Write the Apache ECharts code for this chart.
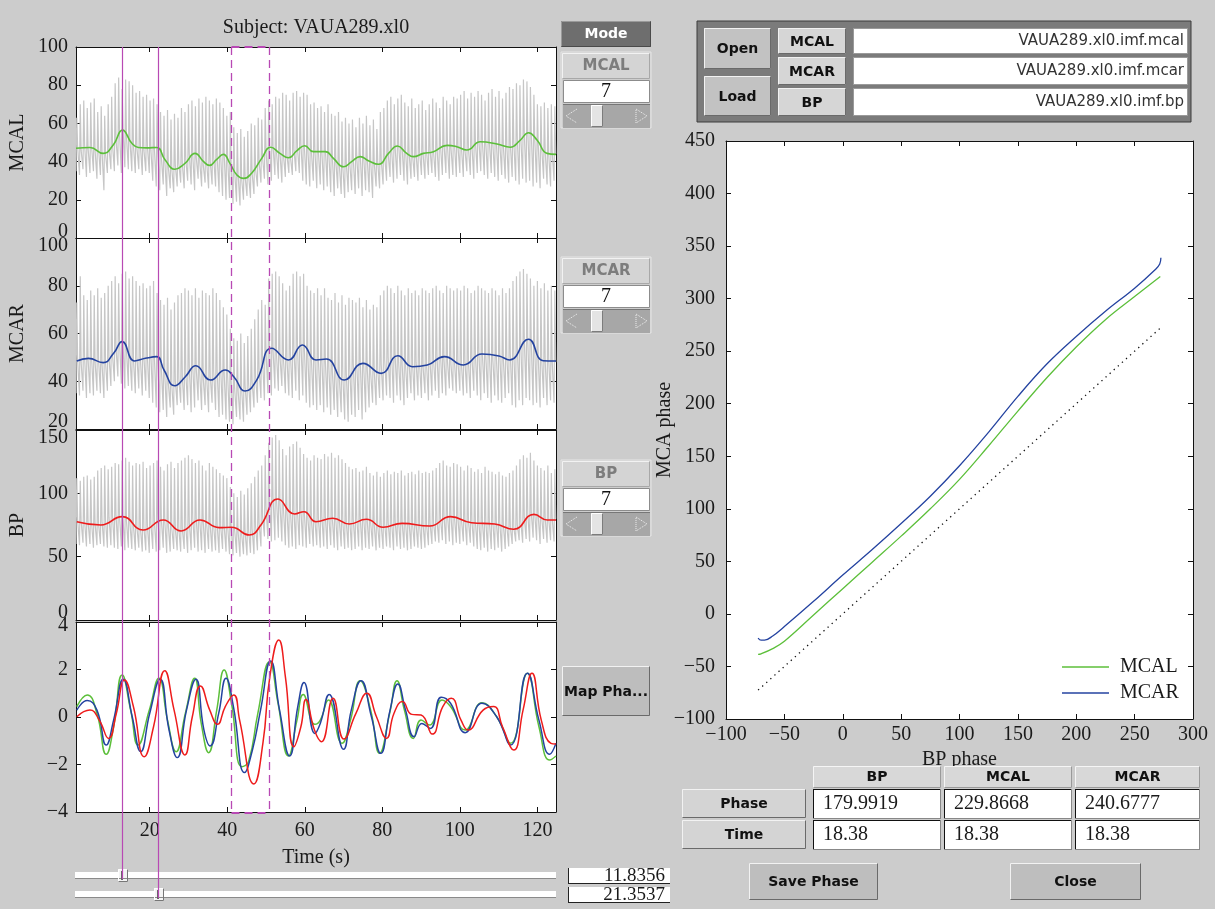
<!DOCTYPE html>
<html><head><meta charset="utf-8">
<script src="https://cdn.jsdelivr.net/npm/echarts@6/dist/echarts.min.js"></script>
<style>html,body{margin:0;padding:0;background:#cccccc;}#c{width:1215px;height:909px;}</style>
</head><body><div id="c"></div>
<script>
// ---------------- DATA ----------------
const timeMin = 1, timeMax = 124.8;
const timeTicks = [20, 40, 60, 80, 100, 120];
const beatStart = 1.0, beatPeriod = 0.9;   // one heartbeat per 0.9 s

const mcalPeaks = [63,70,72,68,71,73,66,69,64,70, 74,81,84,78,83,82,80,76,77,74, 75,72,73,70,66,64,67,62,65,63,
 68,66,70,72,69,73,71,74,72,70, 73,71,68,64,66,58,55,57,53,56, 60,59,63,62,68,72,70,74,73,76,
 75,72,76,77,74,76,75,70,71,68, 69,66,70,65,64,66,61,63,60,62, 58,63,60,64,59,62,57,66,68,72,
 74,70,73,75,71,69,73,68,70,72, 67,70,73,71,68,74,72,70,74,73, 75,77,73,76,74,77,75,72,76,78,
 74,77,73,76,79,78,81,80,83,82, 79,75,70,69,71,68,70,69];
const mcalNotches = [48,46,49,47,48,46,47,45,44,47, 49,52,55,57,53,51,48,47,48,46, 48,46,47,45,42,40,37,36,38,39,
 39,41,44,43,42,40,38,39,40,42, 42,43,44,41,38,35,33,31,32,33, 34,36,40,42,46,47,48,45,44,43,
 43,42,46,47,49,47,46,45,46,45, 45,46,44,42,40,38,37,39,39,41, 42,43,42,41,40,39,40,41,43,44,
 46,47,49,47,45,44,43,44,45,44, 45,46,45,47,48,49,48,47,49,48, 47,46,47,48,50,51,50,49,50,49,
 50,49,48,48,49,50,52,53,55,56, 55,52,49,47,45,44,45,44];
const mcalTroughs = [35,33,36,32,34,35,31,33,25,34, 36,35,38,34,37,36,35,34,36,33, 35,34,30,27,25,28,22,26,24,27,
 29,26,30,28,25,31,27,29,26,28, 27,24,22,20,21,18,19,17,20,22, 21,23,27,29,31,28,30,33,31,29,
 32,34,33,35,34,30,28,27,30,26, 28,25,27,24,22,26,23,21,24,25, 23,26,22,25,24,21,27,26,28,30,
 32,29,31,33,30,28,31,32,30,33, 31,33,34,32,30,33,34,31,33,32, 34,32,35,33,31,34,35,33,31,34,
 32,30,33,31,29,32,30,28,31,29, 30,27,29,26,31,28,27,30];
const mcarPeaks = [73,84,76,74,78,76,79,75,77,80, 82,84,81,85,86,83,84,82,80,81, 79,80,82,77,74,72,75,70,73,76,
 77,79,78,76,79,75,78,77,76,79, 77,74,71,68,62,58,57,60,56,59, 62,66,70,74,72,83,85,86,84,81,
 78,80,85,86,84,85,80,78,77,79, 76,79,75,74,77,73,76,72,75,74, 73,75,71,74,70,72,71,76,78,80,
 79,77,80,78,76,79,77,78,76,79, 78,77,79,80,78,77,80,79,78,79, 78,80,79,77,78,80,79,78,77,79,
 78,76,79,77,79,82,84,86,87,85, 83,80,82,79,81,78,80,78];
const mcarNotches = [49,48,50,49,50,48,49,47,48,50, 51,54,57,56,53,50,49,50,49,50, 50,51,50,48,45,42,39,38,40,41,
 42,43,46,46,45,43,41,41,42,44, 44,45,43,42,40,37,36,37,38,39, 40,42,45,49,52,54,53,51,50,49,
 49,51,53,55,56,53,50,49,50,49, 49,48,46,44,42,41,42,43,45,47, 47,48,46,45,43,44,45,47,49,50,
 51,50,48,47,46,47,47,48,47,46, 47,48,49,50,51,49,48,47,48,48, 47,48,48,50,51,52,51,50,51,49,
 50,51,49,50,51,52,54,56,58,57, 56,53,50,49,48,49,48,48];
const mcarTroughs = [35,34,36,33,35,34,36,35,33,36, 38,40,42,39,37,38,36,35,37,34, 36,33,31,29,27,28,25,29,26,30,
 31,28,30,27,29,32,28,30,27,31, 28,25,26,24,23,22,25,24,23,26, 27,29,31,33,32,35,34,37,36,38,
 35,34,33,36,32,34,31,29,30,28, 30,27,29,26,28,25,27,24,23,26, 25,28,24,27,29,31,30,33,32,34,
 33,31,34,32,30,33,35,32,34,33, 35,32,34,36,33,35,34,37,36,35, 36,34,35,33,36,34,32,35,33,31,
 34,32,31,33,35,30,29,32,30,33, 32,30,31,29,33,30,32,31];
const bpPeaks = [112,110,113,114,111,113,118,120,122,119, 121,124,123,126,128,125,122,124,123,125, 120,122,124,126,121,118,123,125,120,124,
 126,128,130,127,124,126,122,118,124,121, 119,116,114,112,105,100,97,102,99,104, 108,113,118,122,130,140,144,146,142,135,
 130,137,139,141,136,131,128,126,130,128, 127,131,129,132,128,130,127,124,121,119, 120,117,118,121,116,114,117,113,116,118,
 115,117,116,118,114,116,117,115,118,116, 117,116,118,120,124,126,122,121,124,123, 121,118,122,120,117,119,116,121,118,117,
 115,117,114,113,116,118,122,127,130,128, 132,126,122,120,118,122,116,119];
const bpNotches = [79,78,78,77,77,76,76,78,79,81, 82,83,82,80,78,76,74,73,72,73, 74,76,78,80,79,77,74,72,72,72,
 72,74,77,80,80,79,77,75,74,74, 74,74,74,74,73,71,69,68,69,71, 72,74,77,82,88,95,97,95,91,87,
 85,85,86,86,86,83,80,79,79,80, 81,81,81,80,79,78,77,77,78,79, 80,80,80,78,76,75,74,75,76,77,
 77,78,77,77,76,76,75,75,75,75, 75,76,77,78,80,82,83,82,81,80, 79,79,78,78,77,77,77,77,77,77,
 77,76,75,74,73,73,75,78,81,84, 85,84,82,81,80,80,80,80];
const bpTroughs = [60,59,61,58,60,57,59,60,58,57, 59,57,56,58,55,57,56,55,57,54, 55,53,56,54,55,57,53,54,56,55,
 54,56,53,55,57,54,55,53,56,54, 55,53,56,54,52,51,53,50,52,51, 53,52,55,58,66,64,62,63,65,62,
 59,57,58,56,59,58,57,60,58,59, 57,58,56,59,57,55,58,56,57,55, 56,58,55,57,56,58,55,57,56,58,
 57,55,58,56,57,55,56,58,57,56, 57,59,60,62,61,63,60,62,59,61, 60,62,59,61,58,56,55,57,54,56,
 55,57,54,56,58,60,62,63,61,64, 62,65,63,60,64,61,63,62];

const mcalTrend = [[1,47.0],[4.6,47.4],[8,44.3],[10.6,48.7],[13,56.5],[15.4,49.6],[17.1,47.4],[19.2,47.2],[21.8,47.4],[24,40.8],[26.5,36.0],[29.1,39.1],[31.7,44.3],[33.9,40.0],[35.4,38.0],[37.3,41.2],[39,43.8],[40.7,39.1],[42.5,33],[44.2,31.2],[46.3,33.9],[48.9,41.7],[51.2,47.5],[53.6,44.3],[55.8,42.0],[58,45.8],[60,48.3],[62.2,45.2],[65.3,45.2],[67.4,41.7],[70,37.3],[72.1,40],[74.3,42.6],[76.4,40.5],[79,38.6],[81.6,44.3],[83.9,48.2],[86.3,44.3],[88,42.6],[90.6,44.3],[93.2,45.2],[96.7,48.5],[99.2,47.8],[101.8,46.1],[105.3,50.4],[109.6,49.2],[113,47.5],[115.6,51.3],[117.7,55.1],[119.9,51.3],[122.5,44.3],[124.8,43.8]];
const mcarTrend = [[1.2,48.5],[4.2,49.6],[8,47.8],[10.7,51.7],[12.9,56.6],[16.1,48.5],[18.9,49.6],[21.8,50.3],[23.7,44.7],[26.5,38.1],[29.2,41.9],[31.9,46.5],[35.7,40.5],[39.5,44.7],[41.7,41.9],[44.6,35.9],[47.6,40.5],[51.5,53.8],[55.8,48.9],[59.4,55.2],[62.9,48.9],[65.6,49.3],[70.2,40.5],[75,47.5],[79.7,43.3],[84,50.7],[87.8,46.1],[91.6,46.8],[96,50.3],[100.9,46.8],[105.7,51.4],[110.1,50.6],[112.8,48.9],[117.7,57.6],[121.5,48.6],[124.8,48.5]];
const bpTrend = [[1.2,77.6],[7.4,75],[12.9,81.6],[18.3,71],[23.5,79],[28.1,70.3],[33,79],[37.9,72.9],[41.1,73.2],[45.7,67.1],[48.7,75],[53.1,95.5],[57.4,83.7],[59.8,85.5],[62.9,77.6],[67.2,80.3],[71.5,75.8],[75.9,79.5],[80.2,73.2],[85.1,76.3],[92.2,74.2],[97.6,81.6],[103,76.8],[109,75.8],[113.9,71.6],[119.1,83.4],[122.6,79],[124.8,79]];

const mcalImf = [[1.2,0.44],[3.9,0.93],[6.4,0.15],[8.8,-1.57],[10.7,-0.41],[12.9,1.77],[15.1,0.29],[17,-1.18],[19.9,0.29],[22.4,1.63],[24.6,-0.13],[26.8,-1.46],[29.2,0.15],[31.6,1.63],[33.3,-0.27],[35.2,-1.5],[37.3,0.29],[39.2,1.98],[41.1,0.58],[43.8,-2.09],[45.5,-1.88],[47.9,0.15],[50.9,2.33],[53.1,0.58],[55.8,-1.64],[58,-0.13],[59.6,0.95],[62.6,-0.31],[64,-0.13],[66.1,0.72],[69.6,-1.11],[71.8,-0.13],[74.3,1.53],[77,0.29],[79.3,-1.53],[81.9,0.15],[83.8,1.53],[85.7,0.29],[88,-0.9],[90,-0.13],[92.2,-0.34],[95.4,0.72],[97.6,0.44],[101.4,-0.55],[105.7,0.6],[109.5,0.01],[113.1,-1.11],[117.4,1.84],[120.4,-0.41],[123.2,-1.81],[124.8,-1.64]];
const mcarImf = [[1.2,0.29],[3.9,0.69],[6.4,0.29],[8.8,-1.18],[10.7,-0.13],[13.2,1.59],[15.5,0.01],[17.7,-1.46],[20,0.15],[22.7,1.59],[25,-0.55],[27.1,-1.71],[29.5,0.29],[31.9,1.59],[34,-0.55],[35.6,-1.22],[37.8,0.15],[39.7,1.63],[41.6,0.44],[44.5,-2.34],[46.5,-1.39],[48.6,0.29],[51.2,2.36],[53.5,0.29],[56.1,-1.64],[58.2,0.44],[59.8,1.45],[62.6,-0.69],[64,-0.27],[66.3,0.95],[70,-1.36],[72,0.29],[74.5,1.53],[77.2,0.01],[79.6,-1.53],[82,0.29],[84,1.39],[86,0.29],[88.2,-0.83],[90.2,-0.27],[92.4,-0.48],[95.2,0.83],[97.6,0.58],[101.4,-0.66],[105.7,0.58],[109.5,0.01],[113.1,-1.18],[117.4,1.84],[120.4,-0.13],[123.2,-1.57],[124.8,-1.11]];
const bpImf = [[1.2,0.01],[4.6,0.29],[7,-0.13],[9.4,-0.9],[11.4,0.15],[13.5,1.56],[15.8,0.44],[18.6,-1.67],[21,-0.41],[23.9,1.95],[26.3,0.29],[29.1,-1.6],[31,0.01],[33.1,1.31],[35.5,0.29],[37.5,-0.31],[39.5,0.44],[41.7,0.93],[43.2,-0.13],[46.9,-2.82],[49.2,-1.11],[51,1.7],[53.3,3.24],[55,1.7],[57.2,-1.25],[59,-0.41],[60.3,0.74],[62.5,-0.55],[64.3,-1.04],[67.3,0.79],[70.1,-0.93],[73.2,0.15],[76,1.0],[78.5,0.01],[81.1,-0.9],[83,0.15],[85.2,0.65],[87.6,0.11],[90,0.08],[92.9,-0.72],[95.6,0.44],[97.8,0.79],[100.3,-0.13],[102.1,-0.55],[106,0.29],[108.7,0.44],[111,-0.41],[113.9,-1.39],[116.3,0.29],[118.6,1.84],[121,-0.13],[123.5,-1.11],[124.8,-1.14]];

const mcalPhase = [[-72.5,-38.5],[-70,-38],[-60,-33],[-50,-26],[-25,-1],[0,24],[25,49],[50,74],[75,100],[100,128],[125,160],[150,193],[175,225],[200,254],[225,280],[250,302],[272,321]];
const mcarPhase = [[-72.5,-23],[-70,-25],[-67,-25],[-60,-21],[-50,-12],[-25,12],[0,37],[25,61],[50,86],[75,112],[100,141],[125,173],[150,207],[175,238],[200,264],[225,288],[250,310],[268,328],[271.5,333],[272.5,339]];
const identityLine = [[-72.5,-72.5],[272,272]];

const cursorTimes = [12.8, 22.1];
const cursorLabels = ['11.8356', '21.3537'];
const windowTimes = [40.9, 50.7];
const fileNames = ['VAUA289.xl0.imf.mcal', 'VAUA289.xl0.imf.mcar', 'VAUA289.xl0.imf.bp'];
const tableCols = ['BP', 'MCAL', 'MCAR'];
const phaseValues = ['179.9919', '229.8668', '240.6777'];
const timeValues = ['18.38', '18.38', '18.38'];

// ---------------- BUILD ----------------
const serif = '"Liberation Serif", "DejaVu Serif", serif';
const sansB = 'bold 14px "DejaVu Sans", sans-serif';
const ink = '#1a1a1a';
const GREEN = '#5cbf3a', BLUE = '#2443a0', RED = '#ee1c1c', GRAY = '#c6c6c6', MAG = '#b849b4';

function pulse(peaks, notches, troughs) {
  const out = [];
  for (let i = 0; i < peaks.length; i++) {
    const t = beatStart + beatPeriod * i;
    out.push([t, troughs[i]]);
    out.push([t + 0.2, peaks[i]]);
    out.push([t + 0.42, notches[i]]);
  }
  return out;
}
const minus = v => String(v).replace('-', '\u2212');

const grids = [
  {left:76, top:47, width:480, height:191},
  {left:76, top:238, width:480, height:191},
  {left:76, top:430, width:480, height:190},
  {left:76, top:622, width:480, height:190},
  {left:726, top:141, width:467, height:578}
].map(g => Object.assign({show:true, backgroundColor:'#ffffff', borderWidth:0}, g));

const panels = [
  {min:0, max:100, interval:20, name:'MCAL', topPad:0, botPad:12},
  {min:20, max:100, interval:20, name:'MCAR', topPad:16, botPad:14},
  {min:0, max:150, interval:50, name:'BP', topPad:16, botPad:14},
  {min:-4, max:4, interval:2, name:'', topPad:8, botPad:0}
];

const axLine = {show:true, onZero:false, lineStyle:{color:'#111', width:1}};
const axTick = {show:true, inside:true, length:5, lineStyle:{color:'#111', width:1}};
const xAxes = [], yAxes = [];
panels.forEach((p, g) => {
  const last = g === 3;
  ['bottom','top'].forEach(pos => {
    xAxes.push({type:'value', gridIndex:g, position:pos, min:timeMin, max:timeMax,
      axisLine:axLine, axisTick:Object.assign({customValues:timeTicks}, axTick),
      axisLabel:{show: last && pos==='bottom', customValues:timeTicks, margin:9,
        fontFamily:serif, fontSize:20, color:ink},
      splitLine:{show:false},
      name: (last && pos==='bottom') ? 'Time (s)' : '', nameLocation:'middle', nameGap:36,
      nameTextStyle:{fontFamily:serif, fontSize:20, color:ink}});
  });
  ['left','right'].forEach(pos => {
    const rs = {fontFamily:serif, fontSize:20, color:ink};
    yAxes.push({type:'value', gridIndex:g, position:pos, min:p.min, max:p.max, interval:p.interval,
      axisLine:axLine, axisTick:axTick, splitLine:{show:false},
      axisLabel:{show: pos==='left', margin:8, fontFamily:serif, fontSize:20, color:ink,
        formatter: v => { const s = minus(v);
          if (v === p.max && p.topPad) return '{dn|' + s + '}';
          if (v === p.min && p.botPad) return '{up|' + s + '}';
          return s; },
        rich:{dn:Object.assign({padding:[p.topPad,0,0,0]}, rs), up:Object.assign({padding:[0,0,p.botPad,0]}, rs)}},
      name: pos==='left' ? p.name : '', nameLocation:'middle', nameGap:48, nameRotate:90,
      nameMoveOverlap:false,
      nameTextStyle:{fontFamily:serif, fontSize:20, color:ink}});
  });
});
// right phase plot
['bottom','top'].forEach(pos => {
  xAxes.push({type:'value', gridIndex:4, position:pos, min:-100, max:300, interval:50,
    axisLine:axLine, axisTick:axTick, splitLine:{show:false},
    axisLabel:{show:pos==='bottom', margin:6, fontFamily:serif, fontSize:20, color:ink, formatter:minus},
    name: pos==='bottom' ? 'BP phase' : '', nameLocation:'middle', nameGap:28,
    nameTextStyle:{fontFamily:serif, fontSize:20, color:ink}});
});
['left','right'].forEach(pos => {
  yAxes.push({type:'value', gridIndex:4, position:pos, min:-100, max:450, interval:50,
    axisLine:axLine, axisTick:axTick, splitLine:{show:false},
    axisLabel:{show:pos==='left', margin:11, fontFamily:serif, fontSize:20, color:ink, formatter:minus},
    name: pos==='left' ? 'MCA phase' : '', nameLocation:'middle', nameGap:51, nameRotate:90,
    nameMoveOverlap:false,
    nameTextStyle:{fontFamily:serif, fontSize:20, color:ink}});
});

function ln(name, data, xi, color, width, extra) {
  return Object.assign({type:'line', name:name, data:data, xAxisIndex:xi, yAxisIndex:xi,
    symbol:'none', silent:true, clip:true, lineStyle:{color:color, width:width}, itemStyle:{color:color}}, extra || {});
}
const series = [
  ln('g1', pulse(mcalPeaks, mcalNotches, mcalTroughs), 0, GRAY, 1.2),
  ln('t1', mcalTrend, 0, GREEN, 1.6, {smooth:0.5}),
  ln('g2', pulse(mcarPeaks, mcarNotches, mcarTroughs), 2, GRAY, 1.2),
  ln('t2', mcarTrend, 2, BLUE, 1.6, {smooth:0.5}),
  ln('g3', pulse(bpPeaks, bpNotches, bpTroughs), 4, GRAY, 1.2),
  ln('t3', bpTrend, 4, RED, 1.6, {smooth:0.5}),
  ln('i1', mcalImf, 6, GREEN, 1.5, {smooth:0.5}),
  ln('i2', mcarImf, 6, BLUE, 1.5, {smooth:0.5}),
  ln('i3', bpImf, 6, RED, 1.5, {smooth:0.5}),
  ln('ref', identityLine, 8, '#111', 1.2, {lineStyle:{color:'#111', width:1.3, type:[1.3,4.2]}}),
  ln('MCAL', mcalPhase, 8, GREEN, 1.3, {smooth:0.4}),
  ln('MCAR', mcarPhase, 8, BLUE, 1.3, {smooth:0.4})
];

const chart = echarts.init(document.getElementById('c'), null, {renderer:'canvas'});
chart.setOption({
  backgroundColor:'#cccccc', animation:false,
  grid: grids, xAxis: xAxes, yAxis: yAxes, series: series,
  legend: {data:[{name:'MCAL', icon:'rect'}, {name:'MCAR', icon:'rect'}], orient:'vertical',
    left:1057, top:652, itemWidth:47, itemHeight:1.5, itemGap:6, selectedMode:false,
    textStyle:{fontFamily:serif, fontSize:20, lineHeight:20, color:ink, padding:[0,0,0,6]}}
});

// ---------------- GUI WIDGETS ----------------
const G = [];
function rect(x,y,w,h,fill,stroke,z){G.push({type:'rect',shape:{x:x,y:y,width:w,height:h},style:{fill:fill,stroke:stroke||null,lineWidth:1},z:z||10});}
function seg(x1,y1,x2,y2,stroke,w,dash,z){G.push({type:'line',shape:{x1:x1,y1:y1,x2:x2,y2:y2},style:{stroke:stroke,lineWidth:w||1,lineDash:dash||null},z:z||11});}
function txt(x,y,s,font,fill,align,z){G.push({type:'text',x:x,y:y,style:{text:s,font:font,fill:fill,align:align||'center',verticalAlign:'middle'},z:z||12});}
function bevel(x,y,w,h,fill,light,dark){
  rect(x,y,w,h,fill);
  seg(x+0.5,y+0.5,x+w-0.5,y+0.5,light); seg(x+0.5,y+0.5,x+0.5,y+h-0.5,light);
  seg(x+0.5,y+h-0.5,x+w-0.5,y+h-0.5,dark); seg(x+w-0.5,y+0.5,x+w-0.5,y+h-0.5,dark);
}
function button(x,y,w,h,label,fill,font){bevel(x,y,w,h,fill||'#c4c4c4','#f2f2f2','#6a6a6a'); txt(x+w/2,y+h/2+1,label,font||sansB,'#111');}

// title
txt(316, 28, 'Subject: VAUA289.xl0', '20px ' + serif, ink);
// Mode
bevel(561,21,90,26,'#6e6e6e','#9a9a9a','#4a4a4a'); txt(606,34,'Mode',sansB,'#ffffff');
// IMF selectors
function ctrl(top, label){
  rect(561,top,90,76,'#cdcdcd','#e6e6e6');
  bevel(562,top+1,88,26,'#d4d4d4','#f2f2f2','#a8a8a8');
  txt(606,top+14,label,'bold 15px "DejaVu Sans", sans-serif','#7d7d7d');
  rect(563.5,top+28.5,86,22,'#ffffff','#8c8c8c');
  txt(606,top+40,'7','20px ' + serif,'#111');
  rect(563,top+52,87,24,'#a7a7a7');
  seg(563,top+52.5,650,top+52.5,'#777');
  bevel(591,top+53,12,22,'#e4e4e4','#ffffff','#7c7c7c');
  G.push({type:'polyline',shape:{points:[[577,top+57],[566,top+64],[577,top+71]]},style:{stroke:'#f0f0f0',lineWidth:1,lineDash:[1,1],fill:null},z:12});
  G.push({type:'polygon',shape:{points:[[636,top+57],[647,top+64],[636,top+71]]},style:{stroke:'#f0f0f0',lineWidth:1,lineDash:[1,1],fill:null},z:12});
}
ctrl(52,'MCAL'); ctrl(257,'MCAR'); ctrl(460,'BP');
button(562,666,88,50,'Map Pha...','#bdbdbd');

// bottom sliders + value boxes
[872, 891].forEach((y, i) => {
  rect(75,y,481,6,'#ffffff'); seg(75,y+6.5,556,y+6.5,'#8a8a8a');
  const by = i === 0 ? 868 : 887;
  rect(568,by,102,16,'#ffffff');
  seg(568.5,by,568.5,by+16,'#222'); seg(568,by+15.5,670,by+15.5,'#222');
  txt(665,by+8,cursorLabels[i],'19px ' + serif,ink,'right');
});

// top-right file frame
rect(697,21,494,101,'#7b7b7b','#3c3c3c');
button(704,28,67,41,'Open','#c2c2c2');
button(704,76,67,40,'Load','#c2c2c2');
[['MCAL',28,26],['MCAR',57,28],['BP',88,28]].forEach((b, i) => {
  button(778,b[1],68,b[2],b[0],'#d6d6d6');
  rect(853.5,b[1]+0.5,334,b[2]-1,'#ffffff','#9a9a9a');
  txt(1184,b[1]+b[2]/2,fileNames[i],'15px "DejaVu Sans", sans-serif','#333','right');
});

// table
const colX = [813, 944, 1075], colW = [128, 128, 125];
tableCols.forEach((c, i) => {
  bevel(colX[i],766,colW[i],22,'#d8d8d8','#f5f5f5','#9a9a9a');
  txt(colX[i]+colW[i]/2,777,c,sansB,'#111');
  [[789, phaseValues[i]], [820, timeValues[i]]].forEach(r => {
    rect(colX[i],r[0],colW[i],30,'#ffffff');
    seg(colX[i]+0.5,r[0],colX[i]+0.5,r[0]+30,'#111'); seg(colX[i],r[0]+0.5,colX[i]+colW[i],r[0]+0.5,'#111');
    seg(colX[i],r[0]+29.5,colX[i]+colW[i],r[0]+29.5,'#888'); seg(colX[i]+colW[i]-0.5,r[0],colX[i]+colW[i]-0.5,r[0]+30,'#888');
    txt(colX[i]+10,r[0]+15,r[1],'20px ' + serif,ink,'left');
  });
});
button(682,789,124,29,'Phase','#d4d4d4');
button(682,820,124,29,'Time','#d4d4d4');
button(749,863,129,37,'Save Phase','#bebebe');
button(1010,863,131,37,'Close','#bebebe');

// cursor lines and window placed through the time axis scale
const px = t => chart.convertToPixel({xAxisIndex:0}, t);
const topY = 47, botY = 812;
cursorTimes.forEach((t, i) => {
  const x = Math.round(px(t)) + 0.5;
  seg(x, topY, x, i === 0 ? 879 : 898, MAG, 1.2, null, 50);
  bevel(Math.round(x)-5, i === 0 ? 869 : 888, 10, 13, '#f4f4f4', '#ffffff', '#777');
  seg(Math.round(x)-1, i === 0 ? 871 : 890, Math.round(x)-1, i === 0 ? 880 : 899, '#666', 2, null, 13);
});
const wx = windowTimes.map(t => Math.round(px(t)) + 0.5);
wx.forEach(x => seg(x, topY, x, botY, MAG, 1.3, [8,5], 50));
seg(wx[0], topY, wx[1], topY, MAG, 2, [8,5], 50);
seg(wx[0], botY+1, wx[1], botY+1, MAG, 2, [8,5], 50);

chart.setOption({graphic:[{elements:G}]});
</script></body></html>
